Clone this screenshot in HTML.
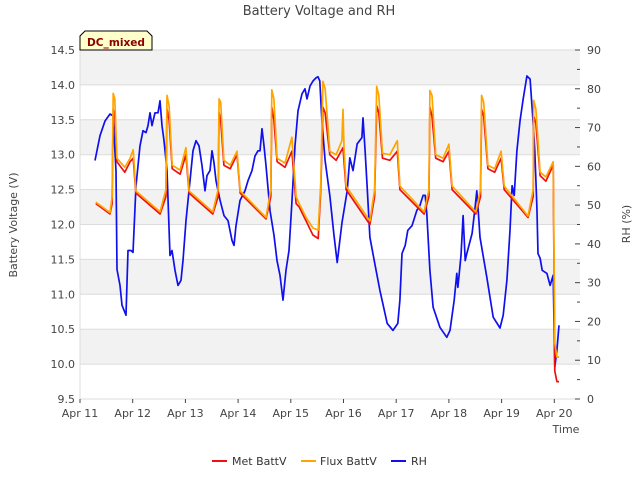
<!DOCTYPE html>
<html><head><meta charset="utf-8"><style>
body{margin:0;background:#fff;}
svg{display:block;font-family:"DejaVu Sans","Liberation Sans",sans-serif;}
</style></head><body>
<svg id="chart" width="640" height="480"></svg>
<script>
const leftTicks=[9.5,10.0,10.5,11.0,11.5,12.0,12.5,13.0,13.5,14.0,14.5];
const rightTicks=[0,10,20,30,40,50,60,70,80,90];
const dayLabels=["Apr 11","Apr 12","Apr 13","Apr 14","Apr 15","Apr 16","Apr 17","Apr 18","Apr 19","Apr 20"];
const metT=[0.30,0.57,0.61,0.63,0.66,0.70,0.85,0.95,1.01,1.06,1.52,1.63,1.65,1.69,1.75,1.90,2.01,2.07,2.52,2.62,2.64,2.67,2.73,2.85,2.98,3.04,3.53,3.62,3.64,3.68,3.74,3.89,4.02,4.10,4.16,4.29,4.42,4.52,4.57,4.61,4.65,4.74,4.86,4.99,5.05,5.50,5.59,5.63,5.67,5.74,5.88,6.02,6.07,6.53,6.62,6.64,6.68,6.75,6.89,7.00,7.06,7.51,7.60,7.62,7.66,7.74,7.87,7.99,8.05,8.50,8.60,8.61,8.65,8.73,8.84,8.98,9.01,9.05,9.09];
const metV=[12.30,12.15,12.3,13.65,13.55,12.9,12.75,12.9,12.95,12.45,12.15,12.4,13.65,13.5,12.8,12.72,13.0,12.45,12.15,12.4,13.6,13.5,12.85,12.8,13.0,12.45,12.08,12.4,13.68,13.5,12.9,12.82,13.05,12.3,12.25,12.05,11.85,11.8,12.5,13.68,13.6,13.0,12.92,13.1,12.5,12.0,12.4,13.7,13.6,12.95,12.92,13.05,12.5,12.15,12.4,13.68,13.55,12.95,12.9,13.05,12.5,12.15,12.4,13.65,13.55,12.8,12.75,12.95,12.5,12.1,12.4,13.55,13.45,12.7,12.62,12.85,9.9,9.75,9.75];
const fluxT=[0.30,0.57,0.61,0.63,0.66,0.70,0.85,0.95,1.01,1.06,1.52,1.63,1.65,1.69,1.75,1.90,2.01,2.07,2.52,2.62,2.64,2.67,2.73,2.85,2.98,3.04,3.53,3.62,3.64,3.68,3.74,3.89,4.02,4.10,4.16,4.29,4.42,4.52,4.57,4.61,4.65,4.74,4.86,4.97,4.99,5.01,5.05,5.50,5.59,5.63,5.67,5.74,5.88,6.02,6.07,6.53,6.62,6.64,6.68,6.75,6.89,7.00,7.06,7.51,7.60,7.62,7.66,7.74,7.87,7.99,8.05,8.50,8.60,8.61,8.65,8.73,8.84,8.98,9.01,9.05,9.09];
const fluxV=[12.32,12.17,12.4,13.88,13.8,12.95,12.82,12.95,13.07,12.48,12.18,12.5,13.85,13.7,12.85,12.78,13.1,12.48,12.18,12.5,13.8,13.75,12.92,12.85,13.05,12.48,12.1,12.5,13.93,13.8,12.95,12.88,13.25,12.4,12.3,12.1,11.95,11.92,12.6,14.05,13.95,13.05,13.0,13.2,13.65,13.1,12.55,12.05,12.5,13.98,13.85,13.02,13.0,13.2,12.55,12.18,12.5,13.92,13.85,13.0,12.95,13.15,12.55,12.18,12.5,13.85,13.75,12.85,12.8,13.05,12.55,12.12,12.5,13.78,13.65,12.75,12.68,12.9,10.3,10.1,10.1];
const rhT=[0.285,0.38,0.474,0.569,0.626,0.683,0.702,0.759,0.797,0.873,0.911,0.968,1.006,1.063,1.139,1.195,1.252,1.29,1.328,1.366,1.423,1.48,1.518,1.556,1.594,1.651,1.708,1.746,1.803,1.86,1.917,1.954,2.011,2.087,2.144,2.201,2.258,2.315,2.372,2.41,2.467,2.505,2.543,2.581,2.657,2.732,2.808,2.884,2.922,2.96,3.036,3.131,3.188,3.264,3.321,3.378,3.416,3.454,3.491,3.529,3.605,3.681,3.738,3.795,3.852,3.909,3.966,4.023,4.08,4.137,4.213,4.27,4.307,4.364,4.421,4.478,4.516,
4.55,4.59,4.65,4.74,4.82,4.88,4.97,5.07,5.12,5.18,5.26,5.35,5.37,5.41,5.45,5.50,5.60,5.69,5.83,5.94,6.03,6.07,6.11,6.17,6.22,6.30,6.39,6.45,6.51,6.55,6.58,6.64,6.70,6.83,6.96,7.02,7.10,7.15,7.17,7.23,7.27,7.31,7.34,7.44,7.50,7.53,7.57,7.59,7.72,7.84,7.97,8.03,8.10,8.16,8.20,8.24,8.29,8.35,8.41,8.48,8.54,8.60,8.63,8.67,8.69,8.73,8.77,8.86,8.92,8.98,9.01,9.05,9.09];
const rhV=[61.5,67.9,71.7,73.5,73.0,58.9,33.4,29.3,24.2,21.6,38.3,38.3,37.8,55.0,65.3,69.2,68.7,70.5,73.8,70.5,73.8,73.8,76.9,70.5,66.6,58.9,37.0,38.3,33.2,29.3,30.6,35.7,46.0,56.3,64.0,66.6,65.3,60.2,53.7,57.6,58.9,64.0,60.9,56.3,51.3,47.3,46.0,40.9,39.6,44.7,51.2,53.7,56.3,58.9,62.7,64.0,64.0,69.7,65.3,60.2,48.6,42.2,35.7,31.9,25.5,33.2,38.3,51.2,65.3,74.3,78.7,80.0,77.4,80.7,82.0,82.8,83.1,
82.0,71.7,61.5,52.5,42.2,35.2,45.3,53.7,62.2,58.9,65.8,67.4,72.5,64.0,54.5,41.7,34.5,28.0,19.5,17.7,19.5,25.5,37.5,39.6,43.5,44.7,48.6,49.9,52.5,52.5,47.8,33.2,23.7,18.5,15.9,17.7,25.5,32.4,28.8,37.0,47.3,35.7,37.5,42.7,49.9,53.7,46.0,41.7,31.4,21.1,18.3,21.6,30.6,43.5,55.0,52.5,64.0,71.7,77.4,83.3,82.5,71.0,64.0,49.4,37.5,36.3,33.2,32.4,29.3,31.9,8.2,12.6,19.0];

const NS="http://www.w3.org/2000/svg";
const svg=document.getElementById('chart');
const L=80,R=580,T=50,B=399,DAY=52.7;
const xS=d=>L+d*DAY;
const yL=v=>B-(v-9.5)/5*(B-T);
const yR=v=>B-v/90*(B-T);
function mk(tag,at,txt){const e=document.createElementNS(NS,tag);for(const k in at)e.setAttribute(k,at[k]);if(txt!=null)e.textContent=txt;svg.appendChild(e);return e;}

for(let i=0;i<leftTicks.length-1;i+=2){
  const b=mk('rect',{x:L,y:yL(leftTicks[leftTicks.length-1-i]),width:R-L,height:yL(9.5)-yL(10),fill:'#f2f2f2'});
  
  
}
leftTicks.forEach(v=>{
  const g=mk('line',{x1:L,x2:R,y1:yL(v),y2:yL(v),stroke:'#dcdcdc','stroke-width':1});
  
  
  const t=mk('text',{x:75,y:yL(v)+4,'text-anchor':'end','font-size':11,fill:'#444'},v.toFixed(1));
  
  
});
mk('line',{x1:L,x2:L,y1:T,y2:B,stroke:'#dcdcdc'});
rightTicks.forEach(v=>{
  const t=mk('text',{x:587,y:yR(v)+4,'font-size':11,fill:'#444'},String(v));
  
  
  mk('line',{x1:R-5,x2:R,y1:yR(v),y2:yR(v),stroke:'#444'});
  if(v<90) mk('line',{x1:R-3,x2:R,y1:yR(v+5),y2:yR(v+5),stroke:'#444'});
});
dayLabels.forEach((s,i)=>{
  const t=mk('text',{x:xS(i),y:417,'text-anchor':'middle','font-size':11,fill:'#444'},s);
  
  
  mk('line',{x1:xS(i),x2:xS(i),y1:B,y2:B+4,stroke:'#444'});
});
function line(ts,vs,sc,color,name){
  const p=mk('polyline',{points:ts.map((t,i)=>xS(t).toFixed(1)+','+sc(vs[i]).toFixed(1)).join(' '),fill:'none',stroke:color,'stroke-width':1.7,'stroke-linejoin':'round'});
  
  
}
line(rhT,rhV,yR,'#1010ee','rh-line');
line(metT,metV,yL,'#ee1111','met-battv-line');
line(fluxT,fluxV,yL,'#ffa500','flux-battv-line');
</script>
<div style="position:absolute;left:0;top:0;width:640px;height:480px;pointer-events:none;">
<svg width="640" height="480" style="position:absolute;left:0;top:0;font-family:'DejaVu Sans','Liberation Sans',sans-serif">
<text x="319" y="15" text-anchor="middle" font-size="13" fill="#444">Battery Voltage and RH</text>
<polygon points="80,50 80,36 85,31 147,31 152,36 152,50" fill="#ffffcc" stroke="#000" stroke-width="1"/>
<text x="87" y="46" font-size="10.5" font-weight="bold" fill="#8b0000" textLength="58" lengthAdjust="spacingAndGlyphs">DC_mixed</text>
<text transform="translate(17,225) rotate(-90)" text-anchor="middle" font-size="11" fill="#444">Battery Voltage (V)</text>
<text transform="translate(630,224) rotate(-90)" text-anchor="middle" font-size="11" fill="#444">RH (%)</text>
<text x="566" y="433" text-anchor="middle" font-size="11" fill="#444">Time</text>
<g>
<line x1="212" x2="227" y1="461" y2="461" stroke="#ee1111" stroke-width="2"/>
<text x="232" y="465" font-size="11" fill="#333">Met BattV</text>
<line x1="301" x2="316" y1="461" y2="461" stroke="#ffa500" stroke-width="2"/>
<text x="320" y="465" font-size="11" fill="#333">Flux BattV</text>
<line x1="391" x2="406" y1="461" y2="461" stroke="#1010ee" stroke-width="2"/>
<text x="411" y="465" font-size="11" fill="#333">RH</text>
</g>
</svg></div>
</body></html>
